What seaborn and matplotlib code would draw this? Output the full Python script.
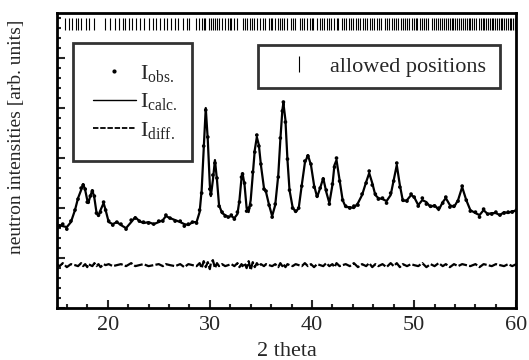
import numpy as np
import pandas as pd
import matplotlib
matplotlib.use("Agg")
import matplotlib.pyplot as plt
from matplotlib.lines import Line2D
import seaborn as sns

# 2 theta positions and calculated intensity (arb. units)
two_theta = [15.0, 15.3, 15.6, 16.0, 16.4, 16.8, 17.1, 17.4, 17.6, 17.8,
             18.0, 18.1, 18.3, 18.5, 18.7, 18.9, 19.1, 19.3, 19.6, 19.8,
             20.1, 20.5, 20.9, 21.3, 21.8, 22.3, 22.7, 23.1, 23.5, 24.0,
             24.5, 25.0, 25.4, 25.7, 26.1, 26.6, 27.1, 27.5, 27.9, 28.3,
             28.7, 29.0, 29.2, 29.4, 29.6, 29.8, 30.0, 30.1, 30.3, 30.5,
             30.7, 30.9, 31.2, 31.5, 31.8, 32.1, 32.4, 32.7, 32.9, 33.1,
             33.2, 33.4, 33.6, 33.8, 34.0, 34.2, 34.4, 34.6, 34.8, 35.0,
             35.3, 35.5, 35.8, 36.1, 36.4, 36.7, 36.9, 37.1, 37.2, 37.4,
             37.6, 37.8, 38.1, 38.4, 38.7, 39.0, 39.3, 39.6, 39.9, 40.2,
             40.5, 40.8, 41.1, 41.4, 41.7, 42.0, 42.2, 42.4, 42.7, 43.0,
             43.3, 43.7, 44.1, 44.5, 44.9, 45.3, 45.6, 45.9, 46.2, 46.5,
             46.9, 47.3, 47.7, 48.0, 48.3, 48.6, 48.9, 49.3, 49.7, 50.0,
             50.4, 50.8, 51.2, 51.6, 52.0, 52.4, 52.8, 53.1, 53.5, 53.9,
             54.3, 54.7, 55.1, 55.5, 56.0, 56.4, 56.8, 57.2, 57.6, 58.0,
             58.4, 58.8, 59.2, 59.6, 60.0]
i_calc = [82, 83, 82, 81, 86, 98, 110, 118, 124, 118,
          108, 105, 112, 118, 110, 96, 92, 98, 105, 98,
          86, 84, 86, 83, 80, 86, 91, 87, 85, 86,
          84, 86, 88, 92, 90, 88, 86, 84, 83, 86,
          86, 96, 118, 158, 200, 168, 123, 112, 128, 148,
          128, 103, 95, 93, 91, 92, 90, 94, 108, 130,
          135, 123, 100, 96, 108, 133, 158, 171, 163, 143,
          120, 116, 103, 92, 103, 133, 168, 198, 205, 188,
          148, 118, 101, 96, 100, 123, 145, 153, 143, 123,
          111, 120, 130, 116, 105, 123, 143, 148, 128, 108,
          101, 101, 100, 105, 113, 126, 135, 125, 113, 110,
          109, 107, 113, 128, 143, 123, 107, 108, 113, 111,
          103, 108, 106, 101, 103, 98, 106, 110, 103, 101,
          108, 121, 108, 98, 95, 93, 98, 94, 95, 95,
          93, 96, 95, 97, 97]
# I_obs - I_calc
i_diff = [1, -1, 2, -2, 1, 0, -1, 2, -1, 1,
          -2, 1, 0, -1, 2, -1, 1, -2, 1, 0,
          1, -1, 0, 1, -1, 2, -1, 0, 1, -1,
          0, 1, -1, 1, 0, -1, 1, -2, 1, 0,
          -1, 2, -3, 4, -2, 3, -4, 2, 5, -3,
          2, -1, 1, -1, 0, 1, -1, 2, -2, 1,
          -1, 2, -3, 4, -5, 3, -2, 2, -1, 1,
          -1, 1, 0, -1, 1, -2, 2, -1, 1, -2,
          1, 0, -1, 1, 0, -1, 2, -1, 1, -2,
          1, 0, -1, 2, -1, 1, -2, 2, -1, 0,
          1, -1, 2, -2, 1, -1, 2, -2, 1, -1,
          1, -2, 2, -1, 2, -2, 1, -1, 1, 0,
          -1, 2, -2, 1, -1, 2, -1, 1, -2, 1,
          -1, 1, 0, -1, 1, -2, 1, 0, -1, 1,
          0, -1, 1, -1, 1]
diff_offset = 43

# allowed reflection positions
allowed = [15.8, 16.2, 16.5, 16.9, 17.1, 17.4, 17.9, 18.2, 18.7, 19.7,
           20.2, 20.7, 21.1, 21.5, 21.7, 22.1, 22.4, 22.8, 23.2, 23.6,
           24.0, 24.4, 24.7, 25.1, 25.5, 25.8, 26.2, 26.6, 26.9, 27.4,
           27.8, 28.0, 28.6, 28.9, 29.2, 29.4, 29.5, 29.9, 30.1, 30.3,
           30.5, 30.7, 30.9, 31.2, 31.5, 31.8, 32.0, 32.1, 32.4, 32.7,
           33.2, 33.4, 33.6, 33.9, 34.1, 34.3, 34.6, 34.9, 35.2, 35.4,
           35.8, 36.0, 36.1, 36.4, 36.7, 36.9, 37.1, 37.3, 37.6, 37.9,
           38.1, 38.3, 38.8, 39.0, 39.2, 39.5, 39.8, 40.0, 40.1, 40.5,
           40.8, 41.0, 41.2, 41.5, 41.7, 41.9, 42.2, 42.4, 42.5, 42.9,
           43.1, 43.3, 43.6, 43.8, 44.0, 44.3, 44.5, 44.7, 45.0, 45.2,
           45.4, 45.7, 45.9, 46.1, 46.4, 46.6, 46.8, 47.1, 47.3, 47.5,
           47.8, 48.0, 48.2, 48.4, 48.7, 48.9, 49.1, 49.3, 49.5, 49.8,
           50.0, 50.2, 50.3, 50.6, 50.8, 51.0, 51.2, 51.4, 51.7, 51.9,
           52.1, 52.3, 52.5, 52.7, 52.9, 53.1, 53.3, 53.5, 53.7, 53.8,
           54.0, 54.2, 54.4, 54.6, 54.8, 55.0, 55.2, 55.4, 55.5, 55.7,
           55.9, 56.1, 56.3, 56.5, 56.7, 56.8, 57.0, 57.2, 57.4, 57.6,
           57.7, 57.9, 58.1, 58.3, 58.5, 58.6, 58.8, 59.0, 59.2, 59.4,
           59.5, 59.7, 59.9]

sns.set_style("ticks")
plt.rcParams["font.family"] = ["Liberation Serif", "DejaVu Serif"]
plt.rcParams["mathtext.fontset"] = "custom"
plt.rcParams["mathtext.rm"] = "Liberation Serif"
plt.rcParams["mathtext.it"] = "Liberation Serif"

df = pd.DataFrame({"tt": two_theta, "calc": i_calc, "diff": i_diff})
df["obs"] = df["calc"] + df["diff"]
df["diff_shift"] = df["diff"] + diff_offset

fig = plt.figure(figsize=(5.29, 3.6), dpi=100)
ax = fig.add_axes([0.107, 0.144, 0.869, 0.820])

sns.lineplot(data=df, x="tt", y="calc", color="black", lw=1.6, ax=ax)
sns.scatterplot(data=df, x="tt", y="obs", color="black", s=7, marker="o",
                edgecolor="none", ax=ax)
sns.lineplot(data=df, x="tt", y="diff_shift", color="black", lw=1.6,
             ax=ax)
ax.lines[-1].set_dashes((4, 1))
ax.vlines(allowed, 278, 290, color="black", lw=0.8)

ax.set_xlim(15, 60)
ax.set_ylim(0, 295)
ax.set_xticks([20, 30, 40, 50, 60])
ax.set_xticks(np.arange(16, 60, 2), minor=True)
ax.set_yticks(np.arange(0, 296, 50))
ax.set_yticks(np.arange(0, 296, 10), minor=True)
ax.set_yticklabels([])
ax.tick_params(direction="in", width=1.5, length=6, labelsize=16, pad=6)
ax.tick_params(which="minor", direction="in", width=1.5, length=3)
for s in ax.spines.values():
    s.set_linewidth(2)
    s.set_color("black")

ax.set_xlabel("2 theta", fontsize=16, labelpad=5)
ax.set_ylabel("neutron intensities [arb. units]", fontsize=14)
ax.yaxis.set_label_coords(-0.068, 0.58)

h1 = [Line2D([], [], color="black", marker=".", ms=4, ls="none"),
      Line2D([], [], color="black", lw=1),
      Line2D([], [], color="black", lw=1.3, ls=(0, (3, 1)))]
lab1 = [r"I$_{\mathrm{obs.}}$", r"I$_{\mathrm{calc.}}$", r"I$_{\mathrm{diff.}}$"]
leg1 = ax.legend(h1, lab1, loc="upper left",
                 bbox_to_anchor=(0.035, 0.5, 0.259, 0.398), mode="expand",
                 fontsize=16, frameon=True, fancybox=False, borderaxespad=0,
                 handlelength=1.95, handletextpad=0.2, labelspacing=0.33,
                 borderpad=0.9, markerfirst=True)
leg1.get_frame().set_edgecolor("black")
leg1.get_frame().set_linewidth(2)
ax.add_artist(leg1)

h2 = [Line2D([], [], color="black", marker="|", ms=11, mew=0.8, ls="none")]
leg2 = ax.legend(h2, ["allowed positions"], loc="upper left",
                 bbox_to_anchor=(0.438, 0.739, 0.526, 0.153), mode="expand",
                 fontsize=16, frameon=True, fancybox=False, borderaxespad=0,
                 handlelength=2.7, handletextpad=0.05, borderpad=0.5)
leg2.get_frame().set_edgecolor("black")
leg2.get_frame().set_linewidth(2)

fig.savefig("out.png", dpi=100, facecolor="white")
